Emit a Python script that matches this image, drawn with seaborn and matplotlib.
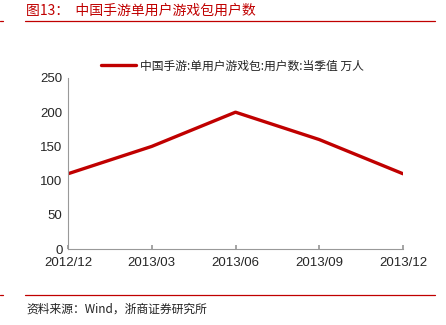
import matplotlib
matplotlib.use("Agg")
import matplotlib.pyplot as plt
import seaborn as sns
import pandas as pd

categories = ["2012/12", "2013/03", "2013/06", "2013/09", "2013/12"]
values = [110, 150, 200, 160, 110]
series_name = "中国手游:单用户游戏包:用户数:当季值 万人"
yticks = [0, 50, 100, 150, 200, 250]

sns.set_theme(style="white")
plt.rcParams['font.family'] = ['Noto Sans CJK SC', 'DejaVu Sans']

df = pd.DataFrame({"date": categories, "value": values, "series": series_name})
df["x"] = range(len(categories))

fig = plt.figure(figsize=(4.46, 3.25), dpi=100)
ax = fig.add_axes([68/446, 1 - 249/325, (403-68)/446, (249-78)/325])

red = "#C00000"
sns.lineplot(data=df, x="x", y="value", hue="series", palette=[red], linewidth=2.4, ax=ax)

ax.set_xlim(0, len(categories) - 1)
ax.set_ylim(0, 250)
ax.set_yticks(yticks)
ax.set_yticklabels([str(t) for t in yticks], fontsize=9.5, family=['Liberation Sans', 'DejaVu Sans'])
ax.set_xticks(range(len(categories)))
ax.set_xticklabels(categories, fontsize=9.5, family=['Liberation Sans', 'DejaVu Sans'])
ax.set_xlabel("")
ax.set_ylabel("")
for s in ["top", "right"]:
    ax.spines[s].set_visible(False)
for s in ["left", "bottom"]:
    ax.spines[s].set_color("#999999")
    ax.spines[s].set_linewidth(0.8)
ax.tick_params(axis="x", direction="in", length=3, color="#999999", pad=6)
ax.tick_params(axis="y", length=0, pad=4)
ax.tick_params(axis="x", bottom=True)

leg = ax.legend(loc="upper center", bbox_to_anchor=(0.49, 1.17), frameon=False,
                fontsize=8.5, handlelength=3, handletextpad=0.3)
for t in leg.get_texts():
    t.set_color("#222222")

# title and footer
fig.text(26/446, 1 - 11/325, "图13：  中国手游单用户游戏包用户数", color=red, fontsize=10,
         va="center", ha="left")
fig.add_artist(plt.Line2D([25/446, 435/446], [1 - 21/325, 1 - 21/325], color=red, linewidth=0.9))
fig.add_artist(plt.Line2D([0, 3/446], [1 - 21/325, 1 - 21/325], color=red, linewidth=0.9))
fig.add_artist(plt.Line2D([25/446, 435/446], [1 - 295/325, 1 - 295/325], color=red, linewidth=0.9))
fig.add_artist(plt.Line2D([0, 3/446], [1 - 295/325, 1 - 295/325], color=red, linewidth=0.9))
fig.text(26/446, 1 - 309/325, "资料来源：Wind，浙商证券研究所", color="#222222", fontsize=8.5,
         va="center", ha="left")

fig.savefig("out.png", dpi=100)
